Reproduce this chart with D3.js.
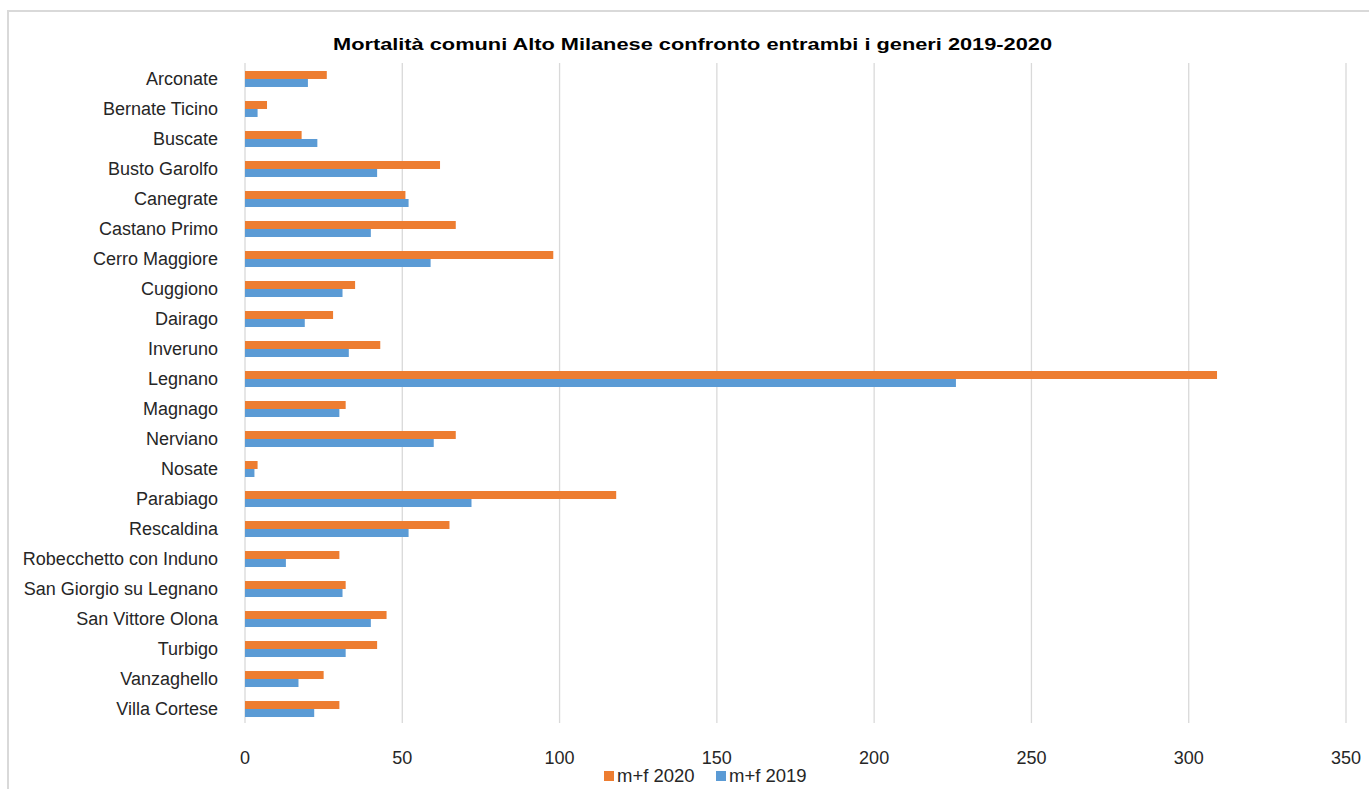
<!DOCTYPE html>
<html>
<head>
<meta charset="utf-8">
<script src="https://cdn.jsdelivr.net/npm/d3@7"></script>
<style>
  html, body { margin: 0; padding: 0; background: #fff; }
  text { font-family: "Liberation Sans", Arial, sans-serif; fill: #262626; }
</style>
</head>
<body>
<div id="chart"></div>
<script>
const comuni = ['Arconate', 'Bernate Ticino', 'Buscate', 'Busto Garolfo', 'Canegrate', 'Castano Primo',
  'Cerro Maggiore', 'Cuggiono', 'Dairago', 'Inveruno', 'Legnano', 'Magnago', 'Nerviano', 'Nosate',
  'Parabiago', 'Rescaldina', 'Robecchetto con Induno', 'San Giorgio su Legnano', 'San Vittore Olona',
  'Turbigo', 'Vanzaghello', 'Villa Cortese'];
const mf2020 = [26, 7, 18, 62, 51, 67, 98, 35, 28, 43, 309, 32, 67, 4, 118, 65, 30, 32, 45, 42, 25, 30];
const mf2019 = [20, 4, 23, 42, 52, 40, 59, 31, 19, 33, 226, 30, 60, 3, 72, 52, 13, 31, 40, 32, 17, 22];
const seriesNames = ['m+f 2020', 'm+f 2019'];
const seriesColors = ['#ED7D31', '#5B9BD5'];
const xTicks = [0, 50, 100, 150, 200, 250, 300, 350];
const title = 'Mortalità comuni Alto Milanese confronto entrambi i generi 2019-2020';

const width = 1369;
const height = 789;

const svg = d3.select('#chart')
  .append('svg')
  .attr('width', width)
  .attr('height', height);

// chart frame
svg.append('rect')
  .attr('x', 8).attr('y', 11)
  .attr('width', 1400).attr('height', 800)
  .attr('fill', '#fff')
  .attr('stroke', '#d9d9d9')
  .attr('stroke-width', 2);

const x = d3.scaleLinear().domain([0, 350]).range([245, 1346]);
const y = d3.scaleBand().domain(comuni).range([63, 723])
  .paddingInner(0.467).paddingOuter(0.233);
const ySub = d3.scaleBand().domain(seriesNames).range([0, y.bandwidth()]);

// gridlines
svg.append('g')
  .selectAll('line')
  .data(xTicks)
  .enter().append('line')
  .attr('x1', d => x(d)).attr('x2', d => x(d))
  .attr('y1', 63).attr('y2', 723)
  .attr('stroke', '#d9d9d9')
  .attr('stroke-width', 1.3);

const rows = comuni.map((c, i) => ({ name: c, values: [mf2020[i], mf2019[i]] }));

const groups = svg.append('g')
  .selectAll('g')
  .data(rows)
  .enter().append('g')
  .attr('transform', d => `translate(0,${y(d.name) + 1})`);

groups.selectAll('rect')
  .data(d => d.values.map((v, k) => ({ v, k })))
  .enter().append('rect')
  .attr('x', x(0))
  .attr('y', d => ySub(seriesNames[d.k]))
  .attr('width', d => x(d.v) - x(0))
  .attr('height', ySub.bandwidth())
  .attr('fill', d => seriesColors[d.k]);

// category labels
svg.append('g')
  .selectAll('text')
  .data(comuni)
  .enter().append('text')
  .attr('x', 218)
  .attr('y', d => y(d) + y.bandwidth() / 2 + 7)
  .attr('text-anchor', 'end')
  .attr('font-size', 18)
  .text(d => d);

// x tick labels
svg.append('g')
  .selectAll('text')
  .data(xTicks)
  .enter().append('text')
  .attr('x', d => x(d))
  .attr('y', 764)
  .attr('text-anchor', 'middle')
  .attr('font-size', 18)
  .text(d => d);

// title
svg.append('text')
  .attr('x', 333)
  .attr('y', 50)
  .attr('font-size', 16)
  .attr('font-weight', 'bold')
  .attr('textLength', 719)
  .attr('lengthAdjust', 'spacingAndGlyphs')
  .style('fill', '#000')
  .text(title);

// legend
const legendX = [604, 716];
const legend = svg.append('g')
  .selectAll('g')
  .data(seriesNames)
  .enter().append('g')
  .attr('transform', (d, i) => `translate(${legendX[i]},771)`);

legend.append('rect')
  .attr('width', 10).attr('height', 10)
  .attr('fill', (d, i) => seriesColors[i]);

legend.append('text')
  .attr('x', 13)
  .attr('y', 11)
  .attr('font-size', 18.5)
  .text(d => d);
</script>
</body>
</html>
